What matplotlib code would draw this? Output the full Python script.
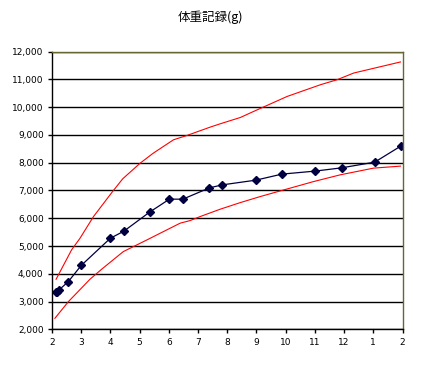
import matplotlib
matplotlib.use("Agg")
import matplotlib.pyplot as plt
from matplotlib.ticker import FuncFormatter

plt.rcParams['font.family'] = ['Noto Sans CJK JP', 'DejaVu Sans']

title = "体重記録(g)"
month_labels = ["2", "3", "4", "5", "6", "7", "8", "9", "10", "11", "12", "1", "2"]

# measured weights (x = months since start)
w_x = [0.14, 0.18, 0.24, 0.56, 1.0, 2.0, 2.46, 3.34, 4.02, 4.48, 5.39, 5.83, 6.98, 7.87, 9.0, 9.92, 11.05, 11.94]
w_y = [3350, 3334, 3417, 3720, 4300, 5282, 5534, 6219, 6688, 6688, 7095, 7203, 7373, 7590, 7698, 7817, 8022, 8599]

# upper reference curve
up_x = [0.14, 0.67, 0.96, 1.42, 2.05, 2.42, 3.02, 3.47, 4.16, 4.62, 5.42, 5.76, 6.45, 6.9, 8.05, 9.19, 9.76, 10.33, 11.93]
up_y = [3803, 4860, 5282, 6060, 6930, 7420, 7986, 8347, 8827, 8982, 9285, 9403, 9631, 9847, 10388, 10810, 10990, 11232, 11630]

# lower reference curve
lo_x = [0.1, 0.56, 1.3, 1.7, 2.44, 3.25, 3.93, 4.39, 4.73, 5.07, 5.76, 6.45, 7.13, 7.82, 8.96, 9.87, 11.01, 11.93]
lo_y = [2397, 2995, 3803, 4164, 4798, 5220, 5581, 5824, 5917, 6060, 6327, 6565, 6782, 6987, 7323, 7565, 7806, 7878]

fig = plt.figure(figsize=(4.23, 3.67), dpi=100)
ax = fig.add_axes([52/423, 1-329.3/367, (402.5-52)/423, (329.3-51.7)/367])

ax.plot(up_x, up_y, color='#ff0000', lw=0.8)
ax.plot(lo_x, lo_y, color='#ff0000', lw=0.8)
ax.plot(w_x, w_y, color='#000040', lw=0.9, marker='D', markersize=4.2,
        markerfacecolor='#000040', markeredgecolor='#000040')

ax.set_xlim(0, 12)
ax.set_ylim(2000, 12000)
ax.set_xticks(range(13))
ax.set_xticklabels(month_labels)
ax.set_yticks(range(2000, 12001, 1000))
ax.yaxis.set_major_formatter(FuncFormatter(lambda v, p: f"{int(v):,}"))
ax.grid(axis='y', color='black', lw=1.0)
ax.set_axisbelow(True)
ax.tick_params(axis='both', direction='out', length=3, width=1, labelsize=6.5, pad=3, colors='black')
for lab in ax.get_xticklabels() + ax.get_yticklabels():
    lab.set_family('DejaVu Sans')
ax.spines['left'].set_color('black')
ax.spines['bottom'].set_color('black')
ax.spines['top'].set_color('#666633')
ax.spines['right'].set_color('#666633')
for s in ax.spines.values():
    s.set_linewidth(1.0)

fig.text(210/423, 1-17/367, title, ha='center', va='center', fontsize=9)

fig.savefig("out.png", dpi=100)
